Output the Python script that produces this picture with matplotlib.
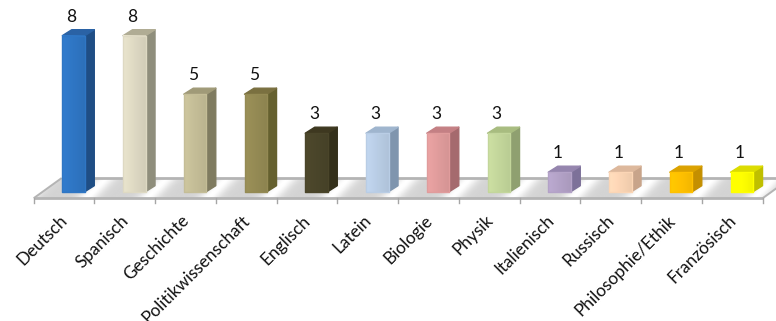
"""3D-look column chart of subject counts, drawn with plain matplotlib patches."""

import matplotlib

matplotlib.use("Agg")
import matplotlib.pyplot as plt
import numpy as np
from matplotlib.patches import Polygon

subjects = [
    "Deutsch", "Spanisch", "Geschichte", "Politikwissenschaft", "Englisch", "Latein",
    "Biologie", "Physik", "Italienisch", "Russisch", "Philosophie/Ethik", "Französisch",
]
counts = [8, 8, 5, 5, 3, 3, 3, 3, 1, 1, 1, 1]
front_colors = [
    "#2f76c4", "#ded9c3", "#c4bd97", "#948a54", "#4a452a", "#b9cde5",
    "#e09c9c", "#c3d69b", "#b3a2c7", "#fbd5b5", "#ffc000", "#ffff00",
]
side_colors = [
    "#1f4e85", "#8f8e7c", "#7f7b60", "#65602f", "#34301b", "#7f95ae",
    "#a56a6e", "#8fa070", "#7d7199", "#c8a48a", "#c48f00", "#bfbf00",
]
top_colors = [
    "#2a62a5", "#b0ac94", "#a09a78", "#7a7040", "#3e3820", "#9fb5ce",
    "#c48084", "#a8bc80", "#9585ae", "#ddb89c", "#dba200", "#dcdc00",
]

PX_PER_CAT = 60.75
PX_PER_UNIT = 19.5
WIDTH, HEIGHT = 776, 321
BASE_Y = 191.7
LEFT_X = 33.7

bar_w = 22.5 / PX_PER_CAT
bar_off = -1.8 / PX_PER_CAT
dx = 9.5 / PX_PER_CAT
dy = 6 / PX_PER_UNIT

fig = plt.figure(figsize=(WIDTH / 100, HEIGHT / 100), dpi=100)
ax = fig.add_axes([0, 0, 1, 1])
ax.set_xlim(-0.5 - LEFT_X / PX_PER_CAT, (WIDTH - LEFT_X) / PX_PER_CAT - 0.5)
ax.set_ylim(-(HEIGHT - BASE_Y) / PX_PER_UNIT, BASE_Y / PX_PER_UNIT)
ax.axis("off")

# floor with diagonal sheen bands
floor_front = -6.5 / PX_PER_UNIT
floor_back = 13.7 / PX_PER_UNIT
skew = 28 / PX_PER_CAT
n = len(subjects)
floor = Polygon(
    [(-0.5, floor_front), (n - 0.5, floor_front), (n - 0.5 + skew, floor_back), (-0.5 + skew, floor_back)],
    closed=True, facecolor="none", edgecolor="none",
)
ax.add_patch(floor)
gx = np.linspace(-1, n + 1, 900)
gy = np.linspace(floor_front, floor_back, 24)
xx, yy = np.meshgrid(gx, gy)
phase = (xx - (yy - floor_front) / (floor_back - floor_front) * 0.32) % 1.0
shade = 0.83 + 0.17 * np.exp(-((phase - 0.38) / 0.17) ** 2)
sheen = ax.imshow(
    shade, extent=(gx[0], gx[-1], floor_front, floor_back), origin="lower",
    cmap="gray", vmin=0, vmax=1, aspect="auto", zorder=1,
)
sheen.set_clip_path(floor)

# back edge, side edge and front edge of the floor
line_kw = dict(color="#b4b4b4", solid_capstyle="butt", zorder=2)
ax.plot([-0.5 + skew, ax.get_xlim()[1]], [floor_back, floor_back], lw=2.0, **line_kw)
ax.plot([-0.5, -0.5 + skew], [floor_front, floor_back], lw=1.4, **line_kw)
ax.plot([n - 0.5, n - 0.5 + skew], [floor_front, floor_back], lw=1.4, **line_kw)
ax.plot([-0.5, n - 0.5], [floor_front, floor_front], lw=2.0, **line_kw)
for t in np.arange(n + 1) - 0.5:
    ax.plot([t, t], [floor_front, floor_front - 5 / PX_PER_UNIT], color="#a6a6a6", lw=1.0, zorder=2)

for i, (name, val) in enumerate(zip(subjects, counts)):
    x0 = i + bar_off
    x1 = x0 + bar_w

    side = [(x1, 0), (x1 + dx, dy), (x1 + dx, val + dy), (x1, val)]
    top = [(x0, val), (x1, val), (x1 + dx, val + dy), (x0 + dx, val + dy)]
    ax.add_patch(Polygon(side, closed=True, facecolor=side_colors[i], edgecolor=side_colors[i],
                         lw=1.0, joinstyle="round", zorder=3))
    ax.add_patch(Polygon(top, closed=True, facecolor=top_colors[i], edgecolor=top_colors[i],
                         lw=1.0, joinstyle="round", zorder=3))

    # front face, slightly lighter towards the left
    rgb = np.array(matplotlib.colors.to_rgb(front_colors[i]))
    ramp = np.linspace(1.05, 0.95, 16)[None, :, None]
    face = np.clip(rgb[None, None, :] * ramp, 0, 1)
    ax.imshow(face, extent=(x0, x1, 0, val), aspect="auto", zorder=4, interpolation="bilinear")
    ax.add_patch(Polygon([(x0, 0), (x1, 0), (x1, val), (x0, val)], closed=True, facecolor="none",
                         edgecolor=front_colors[i], lw=1.0, joinstyle="round", zorder=4))

    ax.text(x0 + bar_w / 2 - 2 / PX_PER_CAT, val + 19 / PX_PER_UNIT, str(val), ha="center", va="center",
            fontsize=12.5, family="Lato", color="#111111", zorder=5)

    ax.text(i - 4.5 / PX_PER_CAT, floor_front - 14 / PX_PER_UNIT, name, rotation=45, rotation_mode="anchor",
            ha="right", va="top", fontsize=12.4, family="Lato", color="#111111", zorder=5)

ax.set_xlim(-0.5 - LEFT_X / PX_PER_CAT, (WIDTH - LEFT_X) / PX_PER_CAT - 0.5)
ax.set_ylim(-(HEIGHT - BASE_Y) / PX_PER_UNIT, BASE_Y / PX_PER_UNIT)
fig.savefig("out.png", dpi=100, facecolor="white")
plt.close(fig)
